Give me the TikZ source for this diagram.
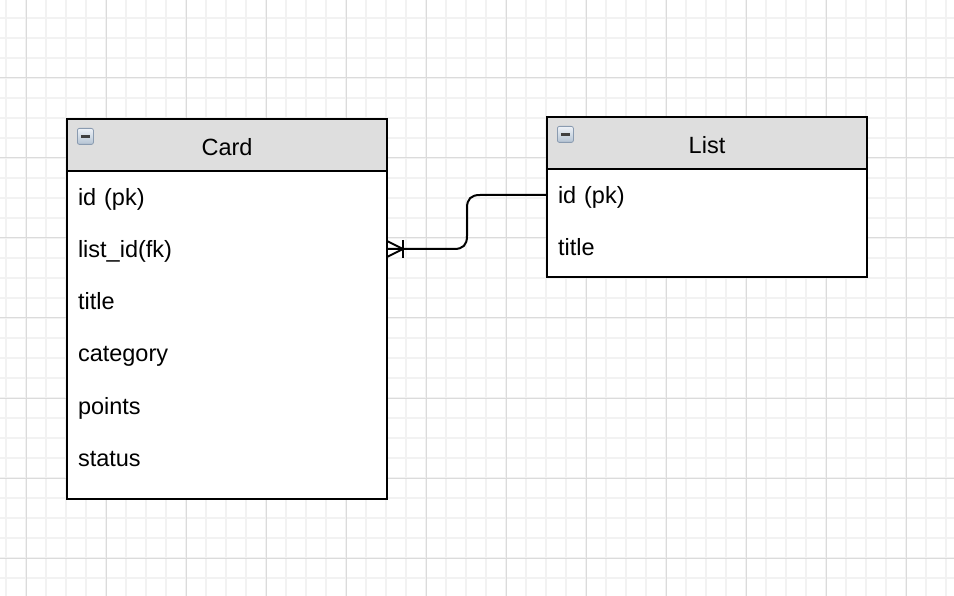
\documentclass[tikz,border=0pt]{standalone}
\usepackage{fontspec}
\setmainfont{Liberation Sans}
\usetikzlibrary{positioning}
\definecolor{headgray}{HTML}{DEDEDE}
\definecolor{iconedge}{HTML}{8A9BB0}
\definecolor{icontop}{HTML}{EEF2F7}
\definecolor{iconbot}{HTML}{B4C3D3}

\begin{document}
\begin{tikzpicture}[x=1pt,y=-1pt,
    minorgrid/.style={black!5,line width=2pt},
    majorgrid/.style={black!14,line width=1pt},
    entity/.style={draw,line width=2pt,fill=white,minimum width=320pt,inner sep=0pt,outer sep=0pt},
    header/.style={draw,line width=2pt,fill=headgray,minimum width=320pt,minimum height=52pt,inner sep=0pt,outer sep=0pt,
                   text height=21pt,text depth=0pt},
    field/.style={minimum width=320pt,minimum height=52pt,inner xsep=11pt,inner ysep=0pt,outer sep=0pt,
                  text width=298pt,text height=20pt,text depth=2pt,align=left},
    icon/.style={draw=iconedge,line width=0.8pt,rounded corners=2pt,top color=icontop,bottom color=iconbot,
                 minimum size=16pt,inner sep=0pt,
                 path picture={\draw[line width=2.6pt,black!75] ([xshift=3.5pt]path picture bounding box.west) -- ([xshift=-3.5pt]path picture bounding box.east);}},
    link/.style={draw,line width=2pt},
    every node/.style={font=\fontsize{23.5}{28}\selectfont}]
\useasboundingbox (0,0) rectangle (954,596);
\fill[white] (0,0) rectangle (954,596);
% grid
\foreach \x in {6,26,...,946} \draw[minorgrid] (\x,0) -- (\x,596);
\foreach \y in {18,38,...,578} \draw[minorgrid] (0,\y) -- (954,\y);
\foreach \x in {26,106,...,906} \draw[majorgrid] (\x,0) -- (\x,596);
\foreach \y in {78,158,...,558} \draw[majorgrid] (0,\y) -- (954,\y);

% Card table
\node[entity,minimum height=380pt] (card) at (227,309) {};
\node[header,below=0pt of card.north] (cardhead) {Card};
\node[icon,below right=9pt and 10pt of cardhead.north west] (cardicon) {};
\node[field,below=0pt of cardhead] (cardid) {id (pk)};
\node[field,below=0pt of cardid] (cardlistid) {list\_id(fk)};
\node[field,below=0pt of cardlistid] (cardtitle) {title};
\node[field,below=0pt of cardtitle] (cardcategory) {category};
\node[field,below=0pt of cardcategory] (cardpoints) {points};
\node[field,below=0pt of cardpoints] (cardstatus) {status};

% List table
\node[entity,minimum height=160pt] (list) at (707,197) {};
\node[header,below=0pt of list.north] (listhead) {List};
\node[icon,below right=9pt and 10pt of listhead.north west] (listicon) {};
\node[field,below=0pt of listhead] (listid) {id (pk)};
\node[field,below=0pt of listid] (listtitle) {title};

% relation: one list -- many cards
\draw[link] (listid.west) -- ++(-67,0) .. controls +(-9,0) and +(0,-9) .. ++(-13,13)
    -- ++(0,28) .. controls +(0,9) and +(9,0) .. ++(-13,13) -- (cardlistid.east);
\draw[link] (cardlistid.east) ++(0,-8) -- ++(16,8) -- ++(-16,8);
\draw[link] (cardlistid.east) ++(16,-9) -- ++(0,18);
\end{tikzpicture}
\end{document}
